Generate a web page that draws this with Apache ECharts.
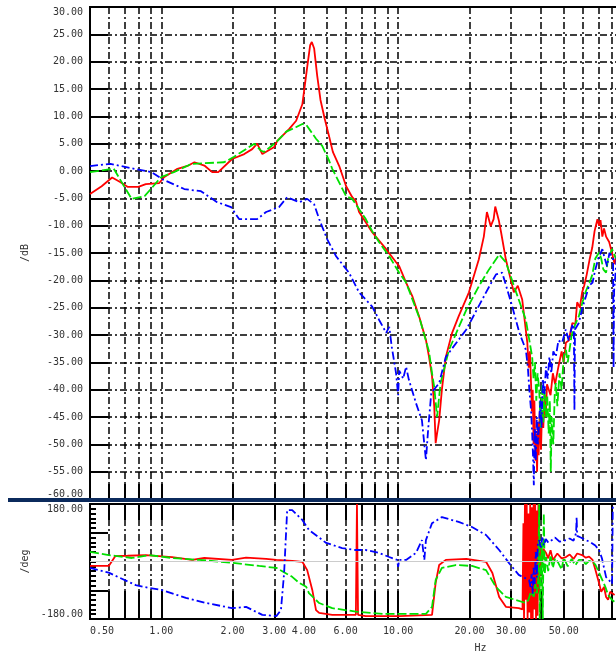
<!DOCTYPE html>
<html>
<head>
<meta charset="utf-8">
<script src="https://cdn.jsdelivr.net/npm/echarts@6/dist/echarts.min.js"></script>
<style>
html, body { margin: 0; padding: 0; background: #fff; }
#chart { width: 616px; height: 656px; }
</style>
</head>
<body>
<div id="chart"></div>
<script>
// grid lines and labels on the frequency axis (Hz)
const gridFreqs = [0.6, 0.7, 0.8, 0.9, 1, 2, 3, 4, 5, 6, 7, 8, 9, 10, 20, 30, 40, 50, 60, 70, 80, 90];
const freqLabels = [0.5, 1, 2, 3, 4, 6, 10, 20, 30, 50];
const phaseLabels = [-180, 180];
const phaseTicks = [-165, -150, -135, -120, -105, -75, -60, -45, -30, -15, 0, 15, 30, 45, 60, 75, 105, 120, 135, 150, 165];
const phaseLongTicks = [-90, 90];

// magnitude, [Hz, dB]
const magRed = [[0.5,-4.2],[0.56,-2.8],[0.62,-1.2],[0.67,-2.0],[0.72,-2.9],[0.8,-2.9],[0.86,-2.4],[0.98,-2.2],[1.03,-1.1],[1.17,0.4],[1.3,1.0],[1.38,1.6],[1.52,1.0],[1.64,-0.2],[1.74,-0.2],[1.99,2.2],[2.24,3.1],[2.42,4.0],[2.54,5.0],[2.67,3.1],[3.0,4.4],[3.09,5.5],[3.47,7.7],[3.71,9.2],[3.94,12.2],[4.13,19],[4.25,23.0],[4.32,23.6],[4.42,22.4],[4.55,17.5],[4.7,13],[4.9,9.5],[5.1,6.5],[5.3,3.5],[5.64,0.9],[6.03,-2.8],[6.4,-4.8],[6.63,-5.5],[6.84,-7.5],[7.77,-11.2],[8.9,-14.3],[9.8,-16.7],[10.1,-17.4],[10.8,-20.4],[11.5,-23],[12.3,-26.8],[13.1,-30.9],[13.5,-34],[13.9,-37.5],[14.2,-43],[14.4,-49.8],[14.6,-48],[14.9,-45.6],[15.3,-40],[15.9,-34],[16.9,-29.6],[18.0,-26.6],[19.9,-22.2],[21.9,-16.2],[23.0,-12],[23.7,-7.5],[24.6,-10.1],[25.3,-8.8],[25.7,-6.5],[26.1,-6.4],[26.6,-9],[27.2,-11.2],[28.5,-16.2],[30.8,-22.2],[32,-21],[33.4,-23.5],[35.1,-31.4],[35.6,-36],[36.0,-33],[36.4,-38.8],[36.7,-44],[37.0,-40],[37.3,-50],[37.6,-42],[38.0,-53],[38.2,-48],[38.6,-55],[38.9,-46],[39.2,-52],[39.6,-44],[40.1,-51],[40.5,-43.8],[41.0,-47],[41.5,-41],[42.0,-45],[42.5,-39],[43.3,-38.8],[44,-41],[45,-37],[46,-39],[47.5,-35.8],[49,-33],[50,-35],[51.1,-31.4],[52.5,-31],[54.4,-27.8],[56,-28],[57,-24],[58.5,-25],[59.8,-22.2],[61,-21],[62.5,-19],[64.3,-16.2],[66,-14],[67.5,-11],[69.4,-8.8],[70.5,-10],[71.5,-9],[72.8,-12],[74,-10.5],[75.5,-12],[77.8,-13],[80,-15],[82,-17],[85,-14]];
const magGreen = [[0.5,-0.2],[0.63,0.4],[0.69,-2.5],[0.75,-5.1],[0.85,-4.6],[1.0,-1.1],[1.13,-0.2],[1.34,1.3],[1.84,1.6],[2.03,2.6],[2.47,5.0],[2.64,3.7],[2.72,3.5],[3.06,5.3],[3.37,7.2],[3.7,8.0],[3.94,8.6],[4.1,8.4],[4.5,5.9],[4.78,4.6],[5.1,2.0],[5.27,0.4],[6.03,-4.6],[6.4,-5.1],[7.3,-8.8],[7.77,-11],[8.3,-13],[9.17,-15.6],[10.1,-18.6],[10.8,-20.4],[12.3,-26.9],[13.5,-33],[13.9,-37],[14.2,-39.5],[14.6,-45],[15.1,-38.8],[16.4,-32.7],[19.4,-25.4],[21.9,-21.1],[24.2,-18],[26.7,-15.3],[28.5,-16.7],[31.5,-22.2],[34.6,-27.2],[36.8,-34],[37.3,-38],[37.8,-35],[38.3,-42],[38.8,-37],[39.4,-40],[40.0,-47],[40.5,-39],[41.0,-46],[41.5,-40],[42.1,-45],[42.6,-41],[43.2,-48],[43.7,-42],[44.1,-55],[44.5,-45],[45.2,-50],[45.8,-41],[46.3,-38.8],[47,-43],[48,-37],[49,-40],[50,-34],[51.1,-32.7],[52,-35],[54,-30],[56,-28],[57.9,-26.6],[60,-24],[62,-22],[64.3,-20.4],[66,-19],[68,-16],[70.5,-14.9],[72,-16],[73.5,-18],[75.5,-18.6],[77,-16],[80,-14.3],[83,-16]];
const magBlue = [[0.5,0.9],[0.61,1.3],[0.77,0.4],[0.91,-0.2],[1.01,-1.5],[1.25,-3.3],[1.47,-3.7],[1.72,-5.7],[1.97,-6.6],[2.13,-8.8],[2.54,-8.8],[2.77,-7.5],[3.14,-6.6],[3.4,-4.8],[3.82,-5.7],[4.13,-5.1],[4.42,-6.1],[4.64,-8.8],[5.02,-12.5],[5.47,-15.6],[6.2,-18.6],[6.84,-22.2],[7.77,-24.8],[8.3,-27.2],[8.9,-29.6],[9.17,-28.5],[9.4,-32.2],[9.8,-37],[10.0,-41],[10.1,-36.5],[10.5,-38],[10.8,-35.8],[11.1,-38.2],[11.9,-42.5],[12.6,-45.6],[13.1,-52.9],[13.4,-47],[13.8,-40.6],[14.9,-38.8],[15.9,-34],[19.4,-29],[23.5,-22.2],[25.9,-18.9],[27.5,-18.6],[30,-24.1],[32.5,-29.6],[34.6,-32.7],[35.3,-36],[35.8,-40],[36.4,-43.8],[36.8,-48],[37.1,-52],[37.4,-57.5],[37.7,-47],[38.1,-53],[38.5,-45],[38.9,-50],[39.4,-46],[39.8,-42],[40.3,-47],[40.8,-38],[41.4,-41],[42.1,-35.8],[42.8,-38],[43.5,-34],[44.3,-37],[45.2,-33],[46.3,-34],[47.5,-31],[49.2,-31.4],[51,-29],[52.5,-31],[54.5,-28],[55.2,-29],[55.5,-43.8],[55.8,-29],[57.9,-27.8],[60,-25],[62,-23],[64,-21],[66.2,-20.4],[68,-18],[70,-16],[72.8,-14.3],[74.5,-16],[76.2,-17.4],[78,-15],[80,-15.6],[80.8,-16],[81.2,-36],[81.6,-22],[84,-15]];

// phase, [Hz, deg]
const phaseRed = [[0.5,-14],[0.6,-14],[0.64,17],[0.72,18],[0.86,20],[1.11,14],[1.35,5],[1.52,11],[1.99,5],[2.28,12],[2.77,8],[3.06,5],[3.57,2],[3.94,-1],[4.13,-27],[4.34,-89],[4.5,-152],[4.64,-161],[5.27,-167],[6.63,-167],[6.7,180],[6.77,-167],[7.3,-171],[10.1,-171],[13.9,-167],[14.4,-67],[14.9,-11],[15.9,5],[19.4,8],[23.5,-1],[25,-36],[26.7,-111],[28.5,-142],[32.3,-146],[33.5,-150],[33.8,120],[34.0,-180],[34.3,180],[34.6,-120],[34.9,180],[35.2,-180],[35.5,150],[35.8,-160],[36.1,180],[36.4,-180],[36.7,170],[37.0,-180],[37.3,180],[37.6,-150],[37.9,180],[38.2,-180],[38.5,160],[38.8,-170],[39.1,180],[39.4,-100],[39.8,60],[40.3,-20],[41,40],[42.1,27],[43,10],[44,35],[45,5],[47,25],[49,10],[51.1,14],[53,22],[55,8],[57,25],[59.8,20],[62,12],[64,15],[66.2,5],[68,-25],[70.5,-67],[72,-95],[74,-80],[75.5,-111],[77,-120],[78.5,-95],[80,-89],[82,-105]];
const phaseGreen = [[0.5,30],[0.6,20],[0.75,11],[0.89,20],[1.11,11],[1.45,5],[1.99,-4],[2.59,-14],[3.06,-20],[3.57,-48],[3.82,-67],[4.09,-79],[4.2,-99],[4.64,-130],[5.27,-146],[6.63,-157],[8.6,-164],[13.1,-164],[13.9,-142],[14.4,-58],[15.3,-20],[17.5,-11],[20.5,-14],[23.5,-27],[25.9,-80],[28.5,-111],[34.6,-130],[35.5,-120],[36.3,-95],[36.8,-89],[37.4,-110],[38,-70],[38.5,-100],[39.0,-60],[39.4,180],[39.6,-180],[39.9,-67],[40.4,60],[40.8,-180],[41.2,150],[41.6,-40],[42.1,14],[43,-30],[44,20],[45,-20],[46,10],[47.5,-5],[49,-25],[50,12],[52,-15],[54,8],[56,-12],[57.9,5],[59.8,5],[62,-8],[64,2],[66.2,-1],[68,-10],[70,-30],[72.8,-58],[75,-80],[77,-105],[80,-120],[83,-130]];
const phaseBlue = [[0.5,-20],[0.6,-35],[0.78,-74],[0.89,-83],[1.0,-89],[1.27,-114],[1.55,-130],[1.99,-146],[2.28,-142],[2.67,-167],[3.06,-171],[3.2,-152],[3.3,-36],[3.4,161],[3.57,161],[3.94,130],[4.2,99],[4.97,58],[5.8,42],[6.63,36],[7.3,36],[8.3,27],[9.17,14],[9.9,5],[10.0,-17],[10.1,5],[10.8,5],[11.9,27],[12.6,67],[12.9,5],[13.1,67],[13.9,120],[15.3,139],[18.0,124],[20.5,108],[23.5,83],[26.7,36],[29.4,-5],[32.3,-42],[35.7,-58],[36.2,-80],[36.6,-40],[37.0,-101],[37.3,-20],[37.7,-70],[38.1,30],[38.5,-50],[38.9,60],[39.4,67],[40,40],[40.6,75],[41.2,50],[42,70],[43,60],[44.6,67],[46,75],[48,62],[51.1,67],[53,72],[55,65],[56.4,89],[56.7,139],[57,80],[59,75],[62.1,67],[65,60],[68,50],[70.5,36],[72.5,10],[75.5,-49],[78,-60],[80,-70],[80.6,180],[81,180]];

const LOG = Math.log10;
const toXY = pts => pts.map(p => [LOG(p[0]), p[1]]);
const dashDot = [7, 3, 2, 3];
const labelFont = { fontFamily: 'DejaVu Sans Mono', fontSize: 10, color: '#333' };

const chart = echarts.init(document.getElementById('chart'));

function curve(name, data, color, type, xi, yi) {
  return {
    name: name,
    type: 'line',
    xAxisIndex: xi,
    yAxisIndex: yi,
    data: toXY(data),
    symbol: 'none',
    lineStyle: { color: color, width: 1.8, type: type },
    emphasis: { disabled: true },
  };
}

const option = {
  animation: false,
  backgroundColor: '#fff',
  // plot runs on past the right edge of the page, up to 100 Hz
  grid: [
    { left: 90, top: 7, width: 545, height: 492, outerBoundsMode: 'none', show: true, borderColor: '#000', borderWidth: 2 },
    { left: 90, top: 504, width: 545, height: 115, outerBoundsMode: 'none', show: true, borderColor: '#000', borderWidth: 2 },
  ],
  xAxis: [
    {
      type: 'value', gridIndex: 0, min: LOG(0.5), max: 2,
      axisLine: { show: false, onZero: false },
      axisTick: { inside: true, length: 15, customValues: gridFreqs.map(LOG), lineStyle: { color: '#000', width: 2 } },
      splitLine: { show: true, lineStyle: { color: '#000', width: 1.5, type: dashDot } },
      axisLabel: { show: false },
    },
    {
      type: 'value', gridIndex: 1, min: LOG(0.5), max: 2,
      axisLine: { show: false, onZero: false },
      axisTick: { inside: true, length: 28, customValues: gridFreqs.map(LOG), lineStyle: { color: '#000', width: 2 } },
      splitLine: { show: true, lineStyle: { color: '#000', width: 1.5, type: dashDot } },
      axisLabel: Object.assign({
        customValues: freqLabels.map(LOG),
        formatter: v => Math.pow(10, v).toFixed(2),
        margin: 7,
        alignMinLabel: 'left',
      }, labelFont),
      name: 'Hz',
      nameLocation: 'middle',
      nameGap: 24,
      nameTextStyle: Object.assign({ padding: [0, 0, 0, 236] }, labelFont),
    },
    {
      type: 'value', gridIndex: 1, position: 'top', min: LOG(0.5), max: 2,
      axisLine: { show: false, onZero: false },
      axisTick: { inside: true, length: 16, customValues: gridFreqs.map(LOG), lineStyle: { color: '#000', width: 2 } },
      splitLine: { show: false },
      axisLabel: { show: false },
    },
  ],
  yAxis: [
    {
      type: 'value', gridIndex: 0, min: -60, max: 30, interval: 5,
      axisLine: { show: true, onZero: false, lineStyle: { color: '#000', width: 2 } },
      axisTick: { inside: true, length: 18, lineStyle: { color: '#000', width: 2 } },
      splitLine: { show: true, lineStyle: { color: '#000', width: 1.5, type: dashDot } },
      axisLabel: Object.assign({
        formatter: v => v.toFixed(2),
        margin: 7,
        verticalAlignMaxLabel: 'top',
        verticalAlignMinLabel: 'bottom',
      }, labelFont),
      name: '/dB',
      nameLocation: 'middle',
      nameGap: 60,
      nameRotate: 90,
      nameTextStyle: labelFont,
    },
    {
      type: 'value', gridIndex: 1, min: -180, max: 180,
      axisLine: { show: true, onZero: false, lineStyle: { color: '#000', width: 2 } },
      axisTick: { inside: true, length: 6, customValues: phaseTicks, lineStyle: { color: '#000', width: 2 } },
      splitLine: { show: false },
      axisLabel: Object.assign({
        customValues: phaseLabels,
        formatter: v => v.toFixed(2),
        margin: 7,
        verticalAlignMaxLabel: 'top',
        verticalAlignMinLabel: 'bottom',
      }, labelFont),
      name: '/deg',
      nameLocation: 'middle',
      nameGap: 8,
      nameRotate: 90,
      nameTextStyle: labelFont,
    },
    {
      type: 'value', gridIndex: 1, min: -180, max: 180, position: 'left',
      axisLine: { show: false, onZero: false },
      axisTick: { inside: true, length: 18, customValues: phaseLongTicks, lineStyle: { color: '#000', width: 2 } },
      splitLine: { show: false },
      axisLabel: { show: false },
    },
  ],
  graphic: [
    { type: 'rect', left: 8, top: 498, shape: { width: 608, height: 4 }, style: { fill: '#0b2a5c' }, z: 100 },
  ],
  series: [
    curve('mag red', magRed, '#ff0000', 'solid', 0, 0),
    curve('mag green', magGreen, '#00e000', [9, 3], 0, 0),
    curve('mag blue', magBlue, '#0000ff', [8, 3, 2, 3], 0, 0),
    Object.assign(curve('phase red', phaseRed, '#ff0000', 'solid', 1, 1), {
      markLine: {
        silent: true, symbol: 'none', label: { show: false },
        lineStyle: { color: '#cccccc', width: 1, type: 'solid' },
        data: [{ yAxis: 0 }],
      },
    }),
    curve('phase green', phaseGreen, '#00e000', [9, 3], 1, 1),
    curve('phase blue', phaseBlue, '#0000ff', [8, 3, 2, 3], 1, 1),
  ],
};

chart.setOption(option);
</script>
</body>
</html>
